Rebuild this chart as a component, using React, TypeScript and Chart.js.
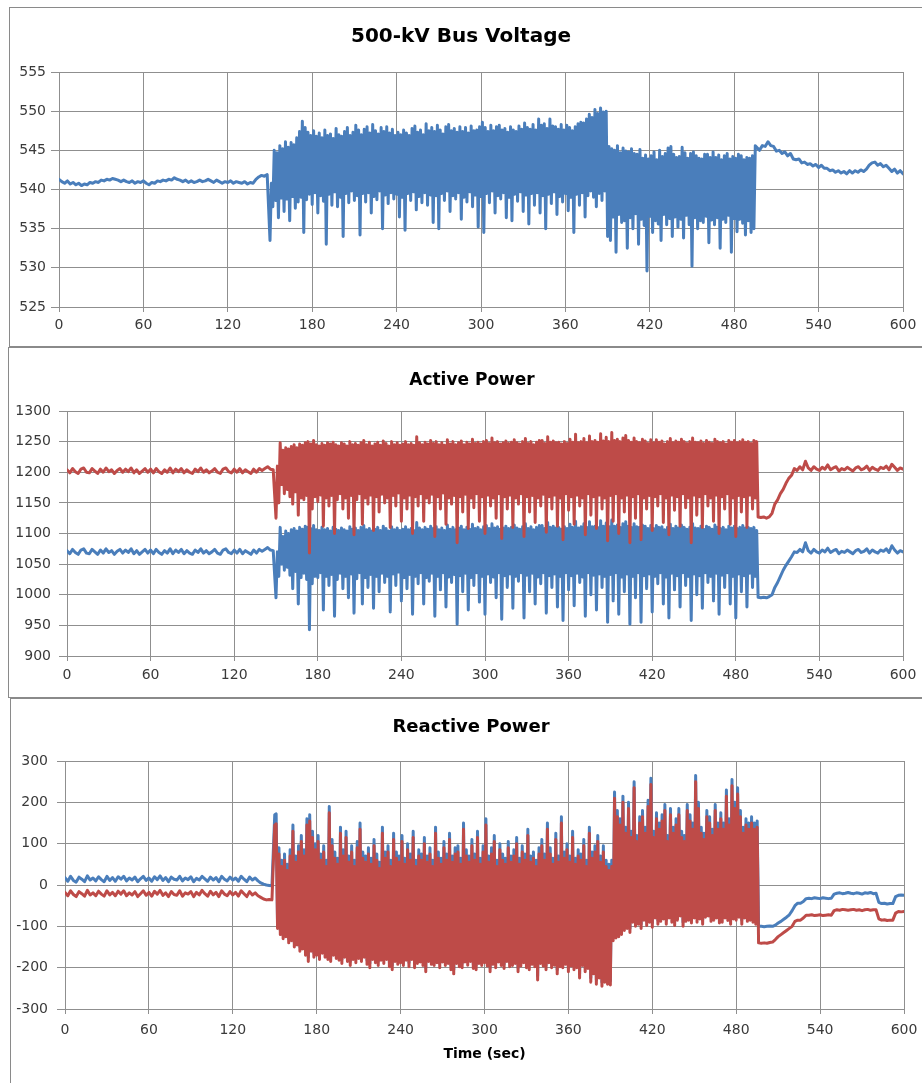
import React, { useEffect, useRef } from "react";
import { Chart, registerables } from "chart.js";

Chart.register(...registerables);

// ---------- sampling of the time axis (seconds) ----------
// steady parts are read every 2 s, the oscillating part (150–495 s) every 1 s
const BEFORE_START = 0;
const OSC_START = 150;
const AFTER_START = 496;
const SLOW_STEP = 2;
const FAST_STEP = 1;
const xTicks = { min: 0, max: 600, step: 60 };

// ---------- 500-kV bus voltage (kV) ----------
const voltageBefore: number[] = [
  541.3, 541.0, 540.8, 541.1, 540.7, 540.9, 540.6, 540.8, 540.5, 540.7,
  540.6, 540.9, 540.8, 541.0, 540.9, 541.2, 541.1, 541.3, 541.2, 541.4,
  541.3, 541.2, 541.0, 541.2, 541.0, 540.9, 541.1, 540.8, 541.0, 540.9,
  541.1, 540.8, 540.6, 540.9, 540.8, 541.1, 541.0, 541.2, 541.1, 541.3,
  541.2, 541.5, 541.3, 541.2, 541.0, 541.2, 540.9, 541.1, 540.9, 541.0,
  541.2, 541.0, 541.1, 541.3, 541.1, 540.9, 541.2, 541.0, 540.8, 541.0,
  540.9, 541.1, 540.8, 541.0, 540.9, 540.8, 541.0, 540.7, 540.9, 540.8,
  541.3, 541.6, 541.8, 541.7, 541.9,
];
const voltageOsc: number[] = [
  533.5, 540.8, 537.8, 545.0, 538.6, 544.7, 536.4, 545.6, 538.9, 545.2,
  537.2, 546.1, 538.8, 545.4, 536.0, 546.0, 539.1, 545.7, 537.6, 546.6,
  538.4, 547.4, 539.0, 548.7, 534.5, 547.9, 538.7, 547.3, 539.4, 546.9,
  538.1, 547.5, 539.6, 546.8, 537.0, 547.2, 539.2, 546.6, 538.5, 547.6,
  533.0, 546.9, 539.4, 547.1, 538.0, 546.5, 539.7, 547.8, 537.8, 547.0,
  539.0, 546.8, 534.0, 547.4, 539.5, 547.9, 538.3, 546.9, 539.8, 547.3,
  538.6, 548.2, 539.2, 547.6, 534.2, 547.0, 539.5, 547.7, 538.4, 548.0,
  539.6, 547.2, 537.0, 548.3, 539.1, 547.5, 538.7, 547.1, 539.8, 547.9,
  535.0, 547.4, 539.3, 548.0, 538.2, 547.2, 539.6, 547.7, 538.8, 546.9,
  539.4, 547.3, 536.5, 547.0, 539.0, 547.6, 534.8, 547.2, 539.5, 546.9,
  538.6, 547.8, 539.7, 548.1, 537.4, 547.3, 539.1, 547.6, 538.3, 547.0,
  539.6, 548.4, 538.0, 547.5, 539.3, 547.9, 535.8, 547.4, 539.2, 548.2,
  535.0, 547.6, 539.5, 547.1, 538.6, 548.0, 539.8, 548.3, 537.2, 547.5,
  539.2, 547.8, 538.8, 547.3, 539.6, 548.0, 536.2, 547.4, 539.0, 547.9,
  538.4, 547.2, 539.7, 548.1, 537.8, 547.5, 539.3, 547.6, 535.2, 548.0,
  539.1, 548.6, 534.5, 547.9, 539.5, 547.4, 538.3, 548.2, 539.8, 547.5,
  537.0, 548.0, 539.2, 548.2, 538.8, 547.6, 539.6, 547.8, 536.4, 547.3,
  539.0, 548.0, 536.0, 547.6, 539.4, 547.4, 538.5, 548.1, 539.7, 547.7,
  537.2, 548.5, 539.3, 547.9, 535.6, 547.7, 539.5, 548.3, 538.0, 547.6,
  539.6, 549.0, 537.0, 548.2, 539.2, 548.4, 535.0, 547.8, 539.4, 549.0,
  538.2, 548.1, 539.7, 548.0, 536.8, 547.7, 539.1, 548.3, 538.4, 547.6,
  539.5, 548.2, 537.3, 547.9, 539.0, 547.5, 534.5, 548.0, 539.4, 548.4,
  538.0, 548.6, 539.6, 548.5, 536.5, 549.0, 539.2, 549.6, 539.8, 549.2,
  539.0, 550.2, 537.8, 549.7, 539.5, 550.4, 538.6, 549.9, 539.8, 550.0,
  534.0, 545.5, 533.5, 545.2, 536.5, 545.0, 532.0, 545.6, 536.8, 544.7,
  535.8, 545.3, 536.0, 544.9, 532.5, 544.8, 536.4, 545.2, 535.0, 544.6,
  536.9, 544.5, 533.0, 545.1, 536.2, 544.0, 535.4, 544.4, 529.6, 543.9,
  536.6, 544.3, 534.5, 544.8, 536.0, 543.8, 535.6, 545.0, 533.5, 544.2,
  536.8, 544.6, 535.5, 545.3, 536.3, 545.5, 534.0, 544.5, 536.5, 544.1,
  535.2, 544.2, 536.2, 545.4, 533.8, 544.7, 536.7, 544.0, 535.5, 544.6,
  530.2, 544.8, 536.4, 544.3, 535.0, 544.0, 536.0, 543.9, 535.8, 544.5,
  536.6, 544.5, 533.2, 544.1, 536.1, 544.8, 535.5, 544.1, 536.4, 544.4,
  532.5, 543.8, 536.2, 544.3, 535.8, 544.6, 536.7, 543.9, 532.0, 544.2,
  536.3, 544.0, 534.6, 544.5, 536.2, 544.3, 535.7, 543.8, 534.2, 544.1,
  536.0, 544.0, 534.5, 544.3, 535.0, 545.6,
];
const voltageAfter: number[] = [
  545.4, 545.0, 545.6, 545.5, 546.1, 545.6, 545.5, 544.9, 545.0, 544.6,
  544.8, 544.3, 544.6, 543.9, 543.8, 543.9, 543.4, 543.5, 543.2, 543.3,
  543.0, 543.2, 542.8, 543.1, 542.7, 542.7, 542.4, 542.5, 542.2, 542.4,
  542.1, 542.3, 542.0, 542.4, 542.1, 542.4, 542.2, 542.5, 542.3, 542.6,
  543.1, 543.4, 543.5, 543.1, 543.3, 542.9, 543.1, 542.7, 542.3, 542.6,
  542.1, 542.4, 542.0,
];

// ---------- active power (MW) ----------
const activeRedBefore: number[] = [
  1204, 1199, 1206, 1201, 1198, 1205, 1207, 1200, 1199, 1206,
  1202, 1198, 1205, 1200, 1207, 1201, 1204, 1198, 1203, 1206,
  1200, 1205, 1201, 1207, 1199, 1204, 1198, 1202, 1206, 1200,
  1205, 1199, 1206, 1201, 1198, 1204, 1200, 1207, 1199, 1205,
  1201, 1206, 1199, 1204, 1200, 1198, 1205, 1201, 1207, 1200,
  1204, 1199, 1202, 1206, 1200, 1198, 1205, 1207, 1201, 1199,
  1205, 1200, 1206, 1199, 1204, 1201, 1198, 1205, 1200, 1206,
  1203, 1206, 1209, 1205, 1204,
];
const activeRedOsc: number[] = [
  1125, 1210, 1150, 1248, 1180, 1236, 1165, 1240, 1172, 1238,
  1160, 1242, 1148, 1245, 1168, 1240, 1130, 1246, 1158, 1244,
  1155, 1248, 1162, 1250, 1068, 1246, 1140, 1252, 1160, 1245,
  1152, 1243, 1163, 1247, 1112, 1244, 1158, 1248, 1145, 1246,
  1162, 1249, 1100, 1245, 1155, 1243, 1165, 1248, 1140, 1246,
  1158, 1243, 1125, 1250, 1162, 1245, 1098, 1247, 1155, 1244,
  1165, 1248, 1115, 1252, 1158, 1245, 1148, 1249, 1163, 1243,
  1105, 1246, 1160, 1249, 1135, 1244, 1164, 1251, 1150, 1247,
  1158, 1243, 1110, 1250, 1162, 1245, 1145, 1248, 1166, 1244,
  1120, 1246, 1158, 1250, 1140, 1245, 1163, 1247, 1100, 1244,
  1160, 1258, 1145, 1248, 1165, 1245, 1120, 1249, 1158, 1246,
  1150, 1252, 1164, 1247, 1095, 1250, 1160, 1245, 1140, 1248,
  1166, 1244, 1115, 1253, 1158, 1246, 1148, 1250, 1162, 1245,
  1085, 1248, 1160, 1251, 1135, 1245, 1164, 1249, 1108, 1246,
  1158, 1254, 1142, 1247, 1165, 1249, 1120, 1246, 1160, 1250,
  1100, 1252, 1163, 1247, 1145, 1256, 1158, 1248, 1125, 1250,
  1165, 1246, 1092, 1248, 1160, 1251, 1140, 1247, 1163, 1249,
  1110, 1253, 1158, 1248, 1148, 1246, 1165, 1250, 1095, 1255,
  1160, 1247, 1135, 1250, 1162, 1245, 1118, 1249, 1158, 1252,
  1145, 1252, 1164, 1247, 1102, 1258, 1160, 1249, 1140, 1251,
  1163, 1248, 1112, 1249, 1158, 1246, 1090, 1250, 1165, 1247,
  1138, 1254, 1160, 1249, 1115, 1262, 1163, 1248, 1145, 1250,
  1158, 1255, 1098, 1248, 1165, 1259, 1130, 1250, 1160, 1252,
  1108, 1249, 1163, 1263, 1140, 1251, 1158, 1257, 1088, 1250,
  1162, 1265, 1120, 1252, 1165, 1254, 1100, 1250, 1158, 1256,
  1135, 1260, 1163, 1252, 1085, 1249, 1160, 1256, 1125, 1250,
  1165, 1248, 1090, 1254, 1158, 1251, 1140, 1247, 1162, 1253,
  1105, 1248, 1160, 1253, 1145, 1249, 1165, 1251, 1118, 1246,
  1158, 1250, 1098, 1255, 1163, 1248, 1138, 1251, 1160, 1249,
  1112, 1254, 1165, 1250, 1142, 1247, 1158, 1250, 1085, 1256,
  1163, 1249, 1130, 1248, 1160, 1251, 1110, 1247, 1165, 1252,
  1145, 1249, 1158, 1247, 1120, 1254, 1163, 1250, 1100, 1248,
  1160, 1250, 1140, 1246, 1165, 1252, 1115, 1249, 1158, 1252,
  1095, 1248, 1162, 1250, 1135, 1253, 1160, 1249, 1110, 1250,
  1163, 1247, 1140, 1252, 1158, 1250,
];
const activeRedAfter: number[] = [
  1127, 1126, 1127, 1125, 1127, 1133, 1148, 1155, 1165, 1172,
  1182, 1190, 1195, 1206, 1203, 1209, 1204, 1218, 1207, 1203,
  1209, 1205, 1203, 1208, 1205, 1212, 1204, 1207, 1209, 1202,
  1206, 1204, 1208, 1205, 1202, 1207, 1209, 1204, 1206, 1210,
  1203, 1208, 1205, 1203, 1208, 1206, 1210, 1204, 1213, 1208,
  1203, 1207, 1205,
];

const activeBlueBefore: number[] = [
  1072, 1067, 1074, 1069, 1066, 1073, 1075, 1068, 1067, 1074,
  1070, 1066, 1073, 1068, 1075, 1069, 1072, 1066, 1071, 1074,
  1068, 1073, 1069, 1075, 1067, 1072, 1066, 1070, 1074, 1068,
  1073, 1067, 1074, 1069, 1066, 1072, 1068, 1075, 1067, 1073,
  1069, 1074, 1067, 1072, 1068, 1066, 1073, 1069, 1075, 1068,
  1072, 1067, 1070, 1074, 1068, 1066, 1073, 1075, 1069, 1067,
  1073, 1068, 1074, 1067, 1072, 1069, 1066, 1073, 1068, 1074,
  1071, 1074, 1077, 1073, 1072,
];
const activeBlueOsc: number[] = [
  995, 1070, 1030, 1110, 1050, 1095, 1040, 1104, 1045, 1100,
  1032, 1106, 1010, 1108, 1038, 1104, 985, 1110, 1028, 1107,
  1035, 1112, 1025, 1110, 943, 1108, 1018, 1113, 1030, 1106,
  1028, 1105, 1036, 1110, 975, 1106, 1030, 1108, 1015, 1104,
  1033, 1110, 965, 1107, 1025, 1105, 1035, 1109, 1010, 1106,
  1030, 1104, 995, 1111, 1034, 1107, 970, 1109, 1026, 1105,
  1036, 1110, 985, 1113, 1028, 1106, 1012, 1108, 1033, 1104,
  978, 1107, 1030, 1110, 1005, 1105, 1035, 1112, 1020, 1108,
  1030, 1104, 972, 1111, 1034, 1106, 1015, 1109, 1037, 1105,
  990, 1107, 1028, 1111, 1010, 1106, 1033, 1108, 968, 1105,
  1030, 1118, 1018, 1109, 1036, 1106, 985, 1110, 1028, 1107,
  1022, 1112, 1035, 1108, 965, 1111, 1030, 1106, 1008, 1109,
  1036, 1105, 980, 1114, 1029, 1107, 1020, 1110, 1033, 1106,
  952, 1109, 1031, 1112, 1005, 1106, 1035, 1110, 975, 1107,
  1028, 1115, 1015, 1108, 1036, 1110, 988, 1106, 1030, 1111,
  968, 1113, 1034, 1108, 1020, 1116, 1029, 1109, 995, 1111,
  1036, 1107, 960, 1109, 1031, 1112, 1012, 1108, 1034, 1110,
  978, 1114, 1030, 1109, 1022, 1107, 1036, 1111, 962, 1116,
  1032, 1108, 1005, 1111, 1035, 1106, 985, 1110, 1029, 1113,
  1018, 1113, 1036, 1108, 970, 1118, 1031, 1110, 1012, 1112,
  1034, 1109, 980, 1110, 1030, 1107, 958, 1111, 1036, 1108,
  1008, 1115, 1031, 1110, 982, 1120, 1035, 1109, 1020, 1111,
  1029, 1116, 965, 1110, 1036, 1119, 1000, 1111, 1032, 1112,
  975, 1110, 1034, 1121, 1012, 1112, 1030, 1117, 955, 1111,
  1033, 1122, 990, 1112, 1036, 1114, 968, 1110, 1029, 1116,
  1005, 1119, 1034, 1112, 952, 1110, 1030, 1116, 995, 1111,
  1036, 1110, 955, 1114, 1031, 1112, 1010, 1108, 1034, 1113,
  972, 1108, 1030, 1113, 1018, 1110, 1036, 1111, 985, 1106,
  1029, 1110, 962, 1115, 1035, 1108, 1008, 1112, 1031, 1109,
  980, 1114, 1036, 1110, 1015, 1107, 1030, 1110, 958, 1116,
  1034, 1109, 1000, 1108, 1031, 1112, 978, 1107, 1036, 1112,
  1020, 1110, 1030, 1107, 990, 1114, 1035, 1110, 968, 1108,
  1032, 1110, 1012, 1106, 1036, 1112, 985, 1109, 1030, 1112,
  962, 1108, 1034, 1110, 1005, 1113, 1031, 1109, 980, 1110,
  1035, 1108, 1012, 1110, 1030, 1105,
];
const activeBlueAfter: number[] = [
  996, 995, 996, 995, 997, 1000, 1012, 1020, 1030, 1040,
  1048, 1055, 1062, 1070, 1069, 1074, 1070, 1085, 1072, 1068,
  1074, 1070, 1068, 1073, 1070, 1076, 1069, 1072, 1074, 1067,
  1071, 1069, 1073, 1070, 1067, 1072, 1074, 1069, 1071, 1075,
  1068, 1073, 1070, 1068, 1073, 1071, 1075, 1069, 1080, 1073,
  1068, 1072, 1070,
];

// ---------- reactive power (MVAr) ----------
const reactiveBlueBefore: number[] = [
  18, 9, 21, 11, 7, 19, 14, 8, 22, 12,
  17, 10, 20, 13, 8, 21, 11, 18, 9, 20,
  14, 21, 10, 17, 12, 19, 8, 15, 21, 11,
  17, 9, 20, 13, 22, 11, 18, 8, 19, 14,
  12, 21, 10, 17, 13, 20, 8, 16, 12, 21,
  15, 9, 19, 12, 18, 8, 21, 14, 10, 19,
  12, 17, 9, 21, 14, 8, 19, 12, 17, 10,
  5, 2, 0, -1, -2,
];
const reactiveBlueOsc: number[] = [
  170, 172, -95, 90, -110, 60, -120, 75, -115, 50,
  -130, 85, -125, 145, -140, 70, -135, 95, -150, 120,
  -145, 85, -160, 160, -175, 170, -150, 130, -165, 100,
  -160, 120, -170, 75, -155, 95, -165, 60, -170, 190,
  -175, 110, -160, 80, -168, 65, -172, 140, -180, 85,
  -165, 130, -175, 70, -185, 95, -170, 60, -178, 105,
  -168, 150, -175, 80, -165, 70, -182, 90, -190, 65,
  -170, 110, -178, 75, -185, 55, -172, 140, -180, 80,
  -170, 95, -188, 60, -195, 125, -175, 80, -182, 70,
  -178, 120, -185, 65, -172, 100, -188, 75, -170, 130,
  -190, 60, -180, 85, -176, 75, -185, 115, -200, 70,
  -175, 90, -182, 60, -185, 140, -178, 80, -190, 65,
  -176, 105, -185, 75, -180, 125, -195, 70, -205, 90,
  -180, 95, -188, 65, -190, 150, -176, 85, -184, 70,
  -175, 110, -192, 75, -195, 130, -180, 65, -185, 95,
  -178, 160, -186, 70, -200, 90, -182, 120, -190, 60,
  -176, 100, -185, 75, -192, 65, -175, 105, -188, 70,
  -185, 85, -180, 115, -200, 65, -186, 95, -178, 75,
  -190, 135, -195, 70, -182, 80, -188, 60, -220, 90,
  -180, 110, -186, 75, -195, 150, -178, 90, -190, 65,
  -184, 125, -205, 70, -188, 165, -190, 80, -182, 100,
  -200, 70, -186, 130, -195, 65, -190, 85, -215, 75,
  -185, 110, -200, 60, -192, 140, -225, 80, -205, 95,
  -230, 120, -215, 70, -235, 95, -225, 60, -230, 50,
  -232, 60, -125, 225, -118, 180, -115, 160, -110, 215,
  -100, 140, -95, 200, -105, 130, -80, 250, -90, 120,
  -85, 165, -95, 180, -75, 140, -88, 205, -80, 258,
  -92, 130, -70, 175, -85, 150, -78, 170, -72, 195,
  -85, 120, -70, 185, -80, 140, -88, 160, -75, 185,
  -65, 130, -90, 120, -78, 195, -75, 170, -82, 150,
  -70, 265, -80, 200, -72, 140, -85, 125, -68, 180,
  -65, 165, -78, 135, -75, 195, -70, 150, -82, 175,
  -80, 150, -70, 230, -76, 160, -85, 255, -72, 200,
  -75, 235, -68, 180, -85, 140, -70, 160, -78, 150,
  -75, 165, -80, 150, -85, 155,
];
const reactiveBlueAfter: number[] = [
  -100, -100, -101, -100, -99, -100, -97, -92, -88, -83,
  -78, -72, -62, -50, -44, -44, -40, -33, -32, -33,
  -31, -32, -33, -31, -32, -33, -32, -22, -20, -19,
  -21, -20, -18, -20, -21, -19, -20, -22, -19, -20,
  -18, -21, -20, -42, -45, -44, -46, -45, -45, -28,
  -25, -24, -25,
];

const reactiveRedBefore: number[] = [
  -18, -26, -14, -23, -28, -16, -21, -27, -13, -24,
  -19, -26, -15, -22, -27, -14, -24, -18, -26, -15,
  -22, -14, -26, -19, -24, -16, -28, -21, -14, -25,
  -18, -27, -15, -22, -13, -25, -19, -28, -16, -23,
  -25, -14, -27, -19, -22, -16, -28, -18, -24, -13,
  -21, -27, -15, -24, -18, -28, -14, -22, -26, -16,
  -24, -18, -27, -14, -21, -28, -16, -24, -19, -26,
  -30, -34, -36, -35, -36,
];
const reactiveRedOsc: number[] = [
  145, 148, -105, 75, -120, 45, -130, 60, -125, 35,
  -140, 70, -135, 130, -150, 55, -145, 80, -160, 105,
  -155, 70, -170, 145, -185, 155, -160, 115, -175, 85,
  -170, 105, -180, 60, -165, 80, -175, 45, -180, 175,
  -185, 95, -170, 65, -178, 50, -182, 125, -190, 70,
  -175, 115, -185, 55, -195, 80, -180, 45, -188, 90,
  -178, 135, -185, 65, -175, 55, -192, 75, -200, 50,
  -180, 95, -188, 60, -195, 40, -182, 125, -190, 65,
  -180, 80, -198, 45, -205, 110, -185, 65, -192, 55,
  -188, 105, -195, 50, -182, 85, -198, 60, -180, 115,
  -200, 45, -190, 70, -186, 60, -195, 100, -210, 55,
  -185, 75, -192, 45, -195, 125, -188, 65, -200, 50,
  -186, 90, -195, 60, -190, 110, -205, 55, -215, 75,
  -190, 80, -198, 50, -200, 135, -186, 70, -194, 55,
  -185, 95, -202, 60, -205, 115, -190, 50, -195, 80,
  -188, 145, -196, 55, -210, 75, -192, 105, -200, 45,
  -186, 85, -195, 60, -202, 50, -185, 90, -198, 55,
  -195, 70, -190, 100, -210, 50, -196, 80, -188, 60,
  -200, 120, -205, 55, -192, 65, -198, 45, -230, 75,
  -190, 95, -196, 60, -205, 135, -188, 75, -200, 50,
  -194, 110, -215, 55, -198, 150, -200, 65, -192, 85,
  -210, 55, -196, 115, -205, 50, -200, 70, -225, 60,
  -195, 95, -210, 45, -202, 125, -235, 65, -215, 80,
  -240, 105, -225, 55, -245, 80, -235, 45, -240, 35,
  -242, 45, -135, 210, -128, 165, -125, 145, -120, 200,
  -110, 125, -105, 185, -115, 115, -90, 235, -100, 105,
  -95, 150, -105, 165, -85, 125, -98, 190, -90, 243,
  -102, 115, -80, 160, -95, 135, -88, 155, -82, 180,
  -95, 105, -80, 170, -90, 125, -98, 145, -85, 170,
  -75, 115, -100, 105, -88, 180, -85, 155, -92, 135,
  -80, 250, -90, 185, -82, 125, -95, 110, -78, 165,
  -75, 150, -88, 120, -85, 180, -80, 135, -92, 160,
  -90, 135, -80, 215, -86, 145, -95, 240, -82, 185,
  -85, 220, -78, 165, -95, 125, -80, 145, -88, 135,
  -85, 150, -90, 135, -95, 140,
];
const reactiveRedAfter: number[] = [
  -140, -141, -140, -141, -139, -138, -132, -125, -120, -115,
  -110, -105, -100, -88, -85, -85, -80, -73, -73, -72,
  -74, -73, -72, -74, -73, -72, -73, -62, -60, -61,
  -59, -60, -61, -60, -59, -61, -60, -62, -60, -59,
  -61, -60, -60, -82, -85, -84, -86, -85, -85, -68,
  -64, -65, -64,
];

// ---------- helpers ----------
type Pt = { x: number; y: number };
function buildPoints(before: number[], osc: number[], after: number[]): Pt[] {
  return [
    ...before.map((y, i) => ({ x: BEFORE_START + i * SLOW_STEP, y })),
    ...osc.map((y, i) => ({ x: OSC_START + i * FAST_STEP, y })),
    ...after.map((y, i) => ({ x: AFTER_START + i * SLOW_STEP, y })),
  ];
}

// ---------- styling ----------
const BLUE = "#4A7EBB";
const RED = "#BE4B48";
const GRID = "#8f8f8f";
const TICK_COLOR = "#3a3a3a";
const TICK_FONT = { family: "'DejaVu Sans', sans-serif", size: 14 };

const panelTitlePlugin = {
  id: "panelTitle",
  afterDraw(chart: any, _args: any, opts: any) {
    const ctx = chart.ctx;
    ctx.save();
    ctx.font = `bold ${opts.size}px 'DejaVu Sans', sans-serif`;
    ctx.fillStyle = "#000";
    ctx.textAlign = "center";
    ctx.textBaseline = "middle";
    ctx.fillText(opts.text, opts.x, opts.y);
    ctx.restore();
  },
};

type Series = { points: Pt[]; color: string };
type PanelSpec = {
  left: number;
  top: number;
  width: number;
  height: number;
  plotLeft: number;
  plotRight: number;
  plotTop: number;
  plotBottom: number;
  bottomPad: number;
  yMin: number;
  yMax: number;
  yStep: number;
  yPad: number;
  xPad: number;
  title: string;
  titleX: number;
  titleY: number;
  titleSize: number;
  xTitle?: string;
  series: Series[];
};

function makeConfig(p: PanelSpec): any {
  return {
    type: "line",
    data: {
      datasets: p.series.map((s) => ({
        data: s.points,
        borderColor: s.color,
        backgroundColor: s.color,
        borderWidth: 3,
        pointRadius: 0,
        pointHoverRadius: 0,
        fill: false,
        tension: 0,
        borderJoinStyle: "round",
        borderCapStyle: "round",
      })),
    },
    options: {
      responsive: false,
      animation: false,
      events: [],
      layout: {
        padding: {
          left: 0,
          top: p.plotTop,
          right: p.width - p.plotRight,
          bottom: p.bottomPad,
        },
      },
      plugins: {
        legend: { display: false },
        tooltip: { enabled: false },
        panelTitle: { text: p.title, x: p.titleX, y: p.titleY, size: p.titleSize },
      },
      scales: {
        x: {
          type: "linear",
          min: xTicks.min,
          max: xTicks.max,
          ticks: {
            stepSize: xTicks.step,
            autoSkip: false,
            maxRotation: 0,
            font: TICK_FONT,
            color: TICK_COLOR,
            padding: p.xPad,
            callback: (v: any) => String(v),
          },
          grid: { color: GRID, lineWidth: 1, tickLength: 5, drawTicks: true },
          border: { color: GRID, width: 1 },
          title: p.xTitle
            ? {
                display: true,
                text: p.xTitle,
                color: "#000",
                font: { family: "'DejaVu Sans', sans-serif", size: 14, weight: "bold" },
                padding: { top: 0, bottom: 0 },
              }
            : { display: false },
          afterFit: (s: any) => {
            s.height = p.height - p.bottomPad - p.plotBottom;
            s.paddingLeft = 0;
            s.paddingRight = 0;
          },
        },
        y: {
          type: "linear",
          min: p.yMin,
          max: p.yMax,
          ticks: {
            stepSize: p.yStep,
            font: TICK_FONT,
            color: TICK_COLOR,
            padding: p.yPad,
            callback: (v: any) => String(v),
          },
          grid: { color: GRID, lineWidth: 1, tickLength: 8, drawTicks: true },
          border: { color: GRID, width: 1 },
          afterFit: (s: any) => {
            s.width = p.plotLeft;
            s.paddingTop = 0;
            s.paddingBottom = 0;
          },
        },
      },
    },
    plugins: [panelTitlePlugin],
  };
}

function Panel({ spec }: { spec: PanelSpec }) {
  const ref = useRef<HTMLCanvasElement | null>(null);
  useEffect(() => {
    if (!ref.current) return;
    const chart = new Chart(ref.current, makeConfig(spec));
    return () => chart.destroy();
  }, [spec]);
  return (
    <div
      style={{
        position: "absolute",
        left: spec.left,
        top: spec.top,
        width: spec.width,
        height: spec.height,
        border: "1px solid #8a8a8a",
        background: "#fff",
      }}
    >
      <canvas
        ref={ref}
        width={spec.width}
        height={spec.height}
        style={{ display: "block", width: spec.width, height: spec.height }}
      />
    </div>
  );
}

const panels: PanelSpec[] = [
  {
    left: 9, top: 7, width: 912, height: 338,
    plotLeft: 49, plotRight: 893, plotTop: 64, plotBottom: 299, bottomPad: 0,
    yMin: 525, yMax: 555, yStep: 5, yPad: 5, xPad: 5,
    title: "500-kV Bus Voltage", titleX: 451, titleY: 29, titleSize: 20,
    series: [{ points: buildPoints(voltageBefore, voltageOsc, voltageAfter), color: BLUE }],
  },
  {
    left: 8, top: 347, width: 913, height: 349,
    plotLeft: 58, plotRight: 894, plotTop: 63, plotBottom: 308, bottomPad: 0,
    yMin: 900, yMax: 1300, yStep: 50, yPad: 8, xPad: 6,
    title: "Active Power", titleX: 463, titleY: 33, titleSize: 17,
    series: [
      { points: buildPoints(activeRedBefore, activeRedOsc, activeRedAfter), color: RED },
      { points: buildPoints(activeBlueBefore, activeBlueOsc, activeBlueAfter), color: BLUE },
    ],
  },
  {
    left: 10, top: 698, width: 911, height: 390,
    plotLeft: 54, plotRight: 893, plotTop: 62, plotBottom: 310, bottomPad: 26,
    yMin: -300, yMax: 300, yStep: 100, yPad: 9, xPad: 8,
    title: "Reactive Power", titleX: 460, titleY: 28, titleSize: 18,
    xTitle: "Time (sec)",
    series: [
      { points: buildPoints(reactiveRedBefore, reactiveRedOsc, reactiveRedAfter), color: RED },
      { points: buildPoints(reactiveBlueBefore, reactiveBlueOsc, reactiveBlueAfter), color: BLUE },
    ],
  },
];

export default function App() {
  return (
    <div
      style={{
        position: "fixed",
        left: 0,
        top: 0,
        width: 922,
        height: 1083,
        overflow: "hidden",
        background: "#fff",
      }}
    >
      {panels.map((p, i) => (
        <Panel key={i} spec={p} />
      ))}
    </div>
  );
}
